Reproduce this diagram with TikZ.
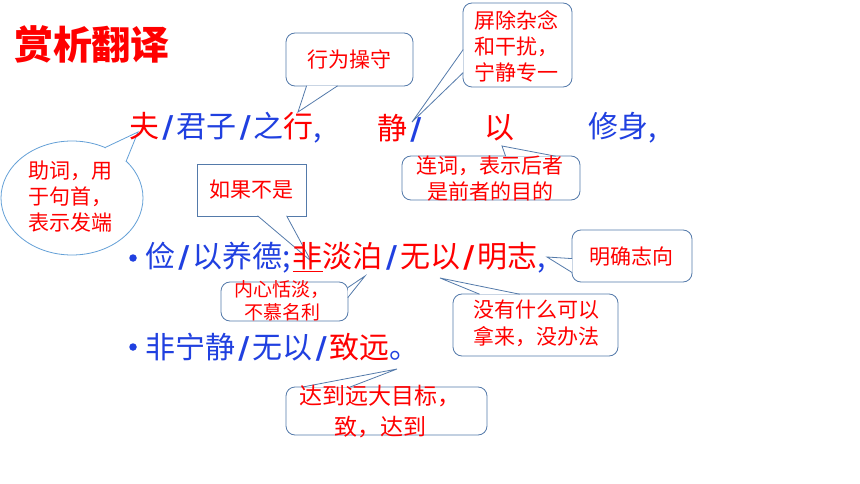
\documentclass[tikz,border=0pt]{standalone}
\usepackage{fontspec}
\setmainfont{Noto Sans CJK SC}
\newfontfamily\slashfont{DejaVu Sans}
\usetikzlibrary{calc,shapes.geometric}
\definecolor{hilite}{RGB}{255,0,0}
\definecolor{plain}{RGB}{32,64,224}
\definecolor{rim}{RGB}{84,122,170}
\definecolor{ovalrim}{RGB}{100,160,215}
\newcommand\blueslash{{\color{plain}\kern3.2pt\slashfont\bfseries/\kern3.2pt}}
\newcommand\redslash{{\color{hilite}\kern3.2pt\slashfont\bfseries/\kern3.2pt}}
\tikzset{
  main text/.style={
    anchor=west,
    inner sep=0pt,
    text=plain,
    font=\fontsize{30}{36}\selectfont
  },
  bullet dot/.style={
    circle,
    fill=plain,
    inner sep=0pt,
    minimum size=7.5pt
  },
  note/.style={
    draw=rim,
    line width=0.8pt,
    fill=white,
    rounded corners=9pt,
    inner sep=0pt,
    rectangle
  },
  note square/.style={note,sharp corners},
  note oval/.style={note,ellipse,draw=ovalrim},
  note text/.style={
    text=hilite,
    align=center,
    inner sep=0pt,
    font=\fontsize{21}{26}\selectfont
  },
  tail/.style={
    draw=rim,
    line width=0.8pt,
    fill=white
  }
}
\begin{document}
\begin{tikzpicture}[x=1pt,y=-1pt]
\path[use as bounding box,fill=white] (0,0) rectangle (860,484);
\node[text=hilite,inner sep=0pt,font=\fontsize{39}{44}\selectfont\bfseries] (title) at (92,44) {赏析翻译};
\coordinate (tipFu)      at (138,132);
\coordinate (tipXing)    at (298,112);
\coordinate (tipJing)    at (412,122);
\coordinate (tipYi)      at (502,146);
\coordinate (tipFei)     at (311,261);
\coordinate (tipDanbo)   at (365,276);
\coordinate (tipZhi)     at (547,257);
\coordinate (tipWuyi)    at (440,278);
\coordinate (tipZhiyuan) at (397,369);
% callouts
\node[note,minimum width=127pt,minimum height=53pt] (conductBox) at (349.5,59.5) {};
\path[tail] ([xshift=21pt,yshift=0.6pt]conductBox.south west) -- (tipXing) -- ([xshift=52pt,yshift=0.6pt]conductBox.south west);
\node[note text] (conductTxt) at (349,60) {行为操守};
\node[note,minimum width=109pt,minimum height=84pt] (calmBox) at (517.5,45) {};
\path[tail] ([xshift=0.6pt,yshift=-47pt]calmBox.north west) -- (tipJing) -- ([xshift=0.6pt,yshift=-70pt]calmBox.north west);
\node[note text,align=left] (calmTxt) at (516,46) {屏除杂念\\和干扰，\\宁静专一};
\node[note,minimum width=178pt,minimum height=44pt] (linkBox) at (491,178) {};
\path[tail] ([xshift=104pt,yshift=-0.6pt]linkBox.north west) -- (tipYi) -- ([xshift=154pt,yshift=-0.6pt]linkBox.north west);
\node[note text] (linkTxt) at (490,179) {连词，表示后者\\是前者的目的};
\node[note oval,minimum width=142pt,minimum height=114pt] (auxOval) at (72,198) {};
\path[tail,draw=ovalrim] ($(auxOval.57.6)!0.8pt!(auxOval.center)$) -- (tipFu) -- ($(auxOval.34.6)!0.8pt!(auxOval.center)$);
\node[note text,align=left] (auxTxt) at (70,197) {助词，用\\于句首，\\表示发端};
\node[note square,minimum width=109pt,minimum height=52pt] (ifBox) at (251.5,190) {};
\path[tail] ([xshift=61pt,yshift=0.6pt]ifBox.south west) -- (tipFei) -- ([xshift=90pt,yshift=0.6pt]ifBox.south west);
\node[note text] (ifTxt) at (251,190) {如果不是};
\node[note,minimum width=127pt,minimum height=39pt] (plainBox) at (284.5,301.5) {};
\path[tail] ([xshift=-0.6pt,yshift=-6pt]plainBox.north east) -- (tipDanbo) -- ([xshift=-0.6pt,yshift=-16pt]plainBox.north east);
\node[note text,font=\fontsize{19}{23}\selectfont] (plainTxt) at (282,301) {内心恬淡，\\不慕名利};
\node[note,minimum width=120pt,minimum height=52pt] (aimBox) at (632,256) {};
\path[tail] ([xshift=0.6pt,yshift=-29pt]aimBox.north west) -- (tipZhi) -- ([xshift=0.6pt,yshift=-43pt]aimBox.north west);
\node[note text] (aimTxt) at (631,257) {明确志向};
\node[note,minimum width=165pt,minimum height=62pt] (noneBox) at (535.5,325) {};
\path[tail] ([xshift=27pt,yshift=-0.6pt]noneBox.north west) -- (tipWuyi) -- ([xshift=67pt,yshift=-0.6pt]noneBox.north west);
\node[note text,font=\fontsize{21}{27}\selectfont] (noneTxt) at (536,323) {没有什么可以\\拿来，没办法};
\node[note,minimum width=201pt,minimum height=48pt] (reachBox) at (386.5,411) {};
\path[tail] ([xshift=16pt,yshift=-0.6pt]reachBox.north west) -- (tipZhiyuan) -- ([xshift=64pt,yshift=-0.6pt]reachBox.north west);
\node[note text,font=\fontsize{23}{31}\selectfont] (reachTxt) at (380,412) {达到远大目标，\\致，达到};
% text lines
\node[main text] (lineA) at (129,128) {{\color{hilite}夫}\blueslash 君子\blueslash 之{\color{hilite}行},};
\node[main text,text=hilite] (jingA) at (377,128) {静\blueslash};
\node[main text,text=hilite] (yiA) at (484,128) {以};
\node[main text] (xiushenA) at (588,128) {修身,};
\node[bullet dot] (dotB) at (133,258) {};
\node[main text] (lineB) at (145,258) {俭\blueslash 以养德;\kern2pt{\color{hilite}\underline{非}淡泊}\blueslash{\color{hilite}无以\redslash 明志},};
\node[bullet dot] (dotC) at (133,347) {};
\node[main text] (lineC) at (145,347) {非宁静\blueslash 无以\blueslash{\color{hilite}致远}。};
\end{tikzpicture}
\end{document}
